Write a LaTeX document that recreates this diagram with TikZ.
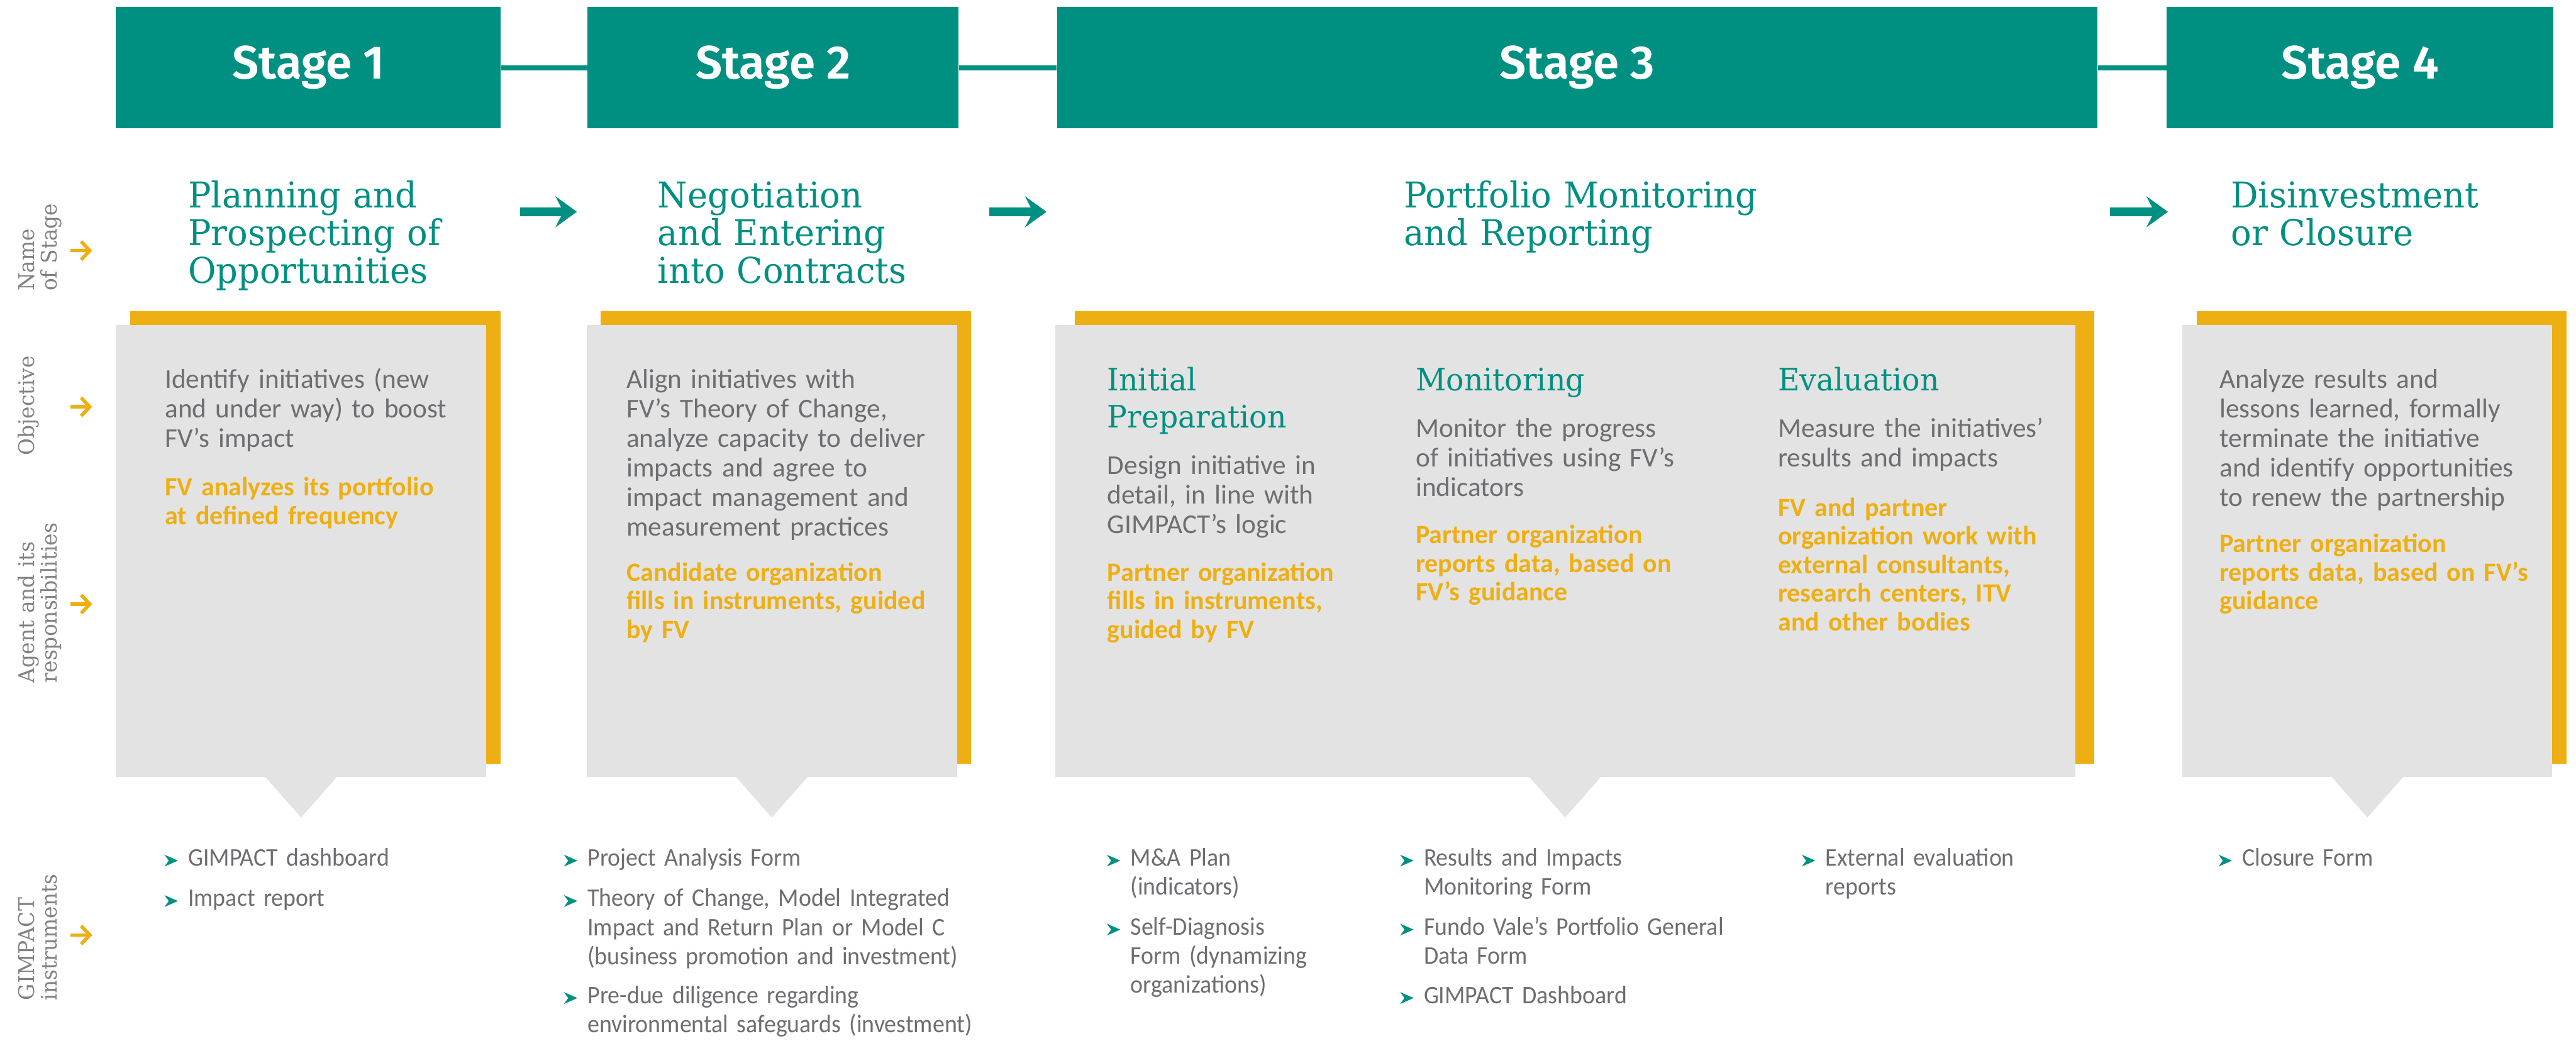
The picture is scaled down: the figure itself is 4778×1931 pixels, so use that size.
\documentclass[tikz,border=0pt]{standalone}
\usepackage{fontspec}
\setmainfont{Carlito}
\newfontfamily\headfont{Fira Sans}[BoldFont={Fira Sans SemiBold}]
\newfontfamily\slabfont{DejaVu Serif}[FakeStretch=0.96]
\newfontfamily\condfont{Carlito}[FakeStretch=0.94]
\usetikzlibrary{positioning,arrows.meta}

\definecolor{fvteal}{HTML}{009081}
\definecolor{fvgold}{HTML}{EEAF13}
\definecolor{fvpanel}{HTML}{E3E3E3}
\definecolor{fvtext}{HTML}{6D6E71}
\definecolor{fvlabel}{HTML}{808285}

\begin{document}
\begin{tikzpicture}
[x=0.2pt, y=-0.2pt,
 stagehead/.style={fill=fvteal, text=white, minimum height=45pt, inner sep=0, font=\headfont\bfseries\fontsize{17.4}{20}\selectfont},
 link/.style={draw=fvteal, line width=1.9pt},
 flow/.style={draw=fvteal, line width=3.2pt, -{Stealth[length=8pt, width=11.6pt, inset=3pt, line width=0pt]}},
 rowarrow/.style={draw=fvgold, line width=1.3pt, -{Straight Barb[length=3.2pt, width=6.8pt]}},
 stagename/.style={anchor=base west, inner sep=0, text width=150pt, align=left, text=fvteal, font=\slabfont\fontsize{13.2}{14}\selectfont},
 substage/.style={stagename, font=\slabfont\fontsize{11.5}{13.8}\selectfont},
 rowlabel/.style={rotate=90, anchor=base west, inner sep=0, text width=80pt, align=left, text=fvlabel, font=\slabfont\fontsize{8}{8.2}\selectfont},
 objtext/.style={anchor=base west, inner sep=0, text width=150pt, align=left, text=fvtext, font=\fontsize{10.1}{11}\selectfont},
 agenttext/.style={objtext, text=fvgold, font=\bfseries\fontsize{9.8}{10.6}\selectfont},
 inst/.style={anchor=base west, inner sep=0, text width=170pt, align=left, text=fvtext, font=\condfont\fontsize{9.4}{10.8}\selectfont}]

\fill[white] (0,0) rectangle (4778,1931);
\useasboundingbox (0,0) rectangle (4778,1931);

\node (s1)[stagehead, minimum width=142.8pt] at (572,125.5) {Stage 1};
\node (s2)[stagehead, minimum width=137.6pt, right=31.8pt of s1] {Stage 2};
\node (s3)[stagehead, minimum width=385.8pt, right=36.2pt of s2] {Stage 3};
\node (s4)[stagehead, minimum width=143.4pt, right=25.4pt of s3] {Stage 4};
\foreach \a/\b in {s1/s2, s2/s3, s3/s4}
  \draw[link] (\a) -- (\b);

\node (n1)[stagename] at (348,385) {Planning and\\Prospecting of\\Opportunities};
\node (n2)[stagename] at (1219,385) {Negotiation\\and Entering\\into Contracts};
\node (n3)[stagename] at (2603,385) {Portfolio Monitoring\\and Reporting};
\node (n4)[stagename] at (4137,385) {Disinvestment\\or Closure};

\foreach \u/\v [count=\k] in {965/1070, 1835/1941, 3914/4021}{
  \coordinate (fa\k) at (\u,393);
  \coordinate (fb\k) at (\v,393);
  \draw[flow] (fa\k) -- (fb\k);
}

% gold backing, grey panel and its pointer
\foreach \l/\r/\d in {215/902/27, 1088/1775/26, 1957/3849/36, 4048/4734/27}{
  \fill[fvgold] (\l+\d,578) rectangle (\r+\d,1417);
  \fill[fvpanel] (\l,603) rectangle (\r,1442);
  \fill[fvpanel] ({(\l+\r)/2-67},1441) -- ({(\l+\r)/2+67},1441) -- ({(\l+\r)/2},1517) -- cycle;
}

\node (lname)[rowlabel] at (64,541) {Name\\of Stage};
\node (lobj)[rowlabel] at (64,846) {Objective};
\node (lagent)[rowlabel] at (64,1268) {Agent and its\\responsibilities};
\node (linst)[rowlabel] at (64,1857) {GIMPACT\\instruments};
\foreach \y [count=\k] in {465,755,1121,1735}{
  \coordinate (ra\k) at (131,\y);
  \coordinate (rb\k) at (171,\y);
  \draw[rowarrow] (ra\k) -- (rb\k);
}

\node (obj1)[objtext] at (305,720) {Identify initiatives (new\\and under way) to boost\\FV’s impact};
\node (agent1)[agenttext] at (305,920) {FV analyzes its portfolio\\at defined frequency};

\node (obj2)[objtext] at (1161,720) {Align initiatives with\\FV’s Theory of Change,\\analyze capacity to deliver\\impacts and agree to\\impact management and\\measurement practices};
\node (agent2)[agenttext] at (1161,1078) {Candidate organization\\fills in instruments, guided\\by FV};

\node (sub1)[substage] at (2053,725) {Initial\\Preparation};
\node (sub2)[substage] at (2625,725) {Monitoring};
\node (sub3)[substage] at (3297,725) {Evaluation};
\node (obj3a)[objtext] at (2053,880) {Design initiative in\\detail, in line with\\GIMPACT’s logic};
\node (obj3b)[objtext] at (2625,811) {Monitor the progress\\of initiatives using FV’s\\indicators};
\node (obj3c)[objtext] at (3297,811) {Measure the initiatives’\\results and impacts};
\node (agent3a)[agenttext] at (2053,1078) {Partner organization\\fills in instruments,\\guided by FV};
\node (agent3b)[agenttext] at (2625,1009) {Partner organization\\reports data, based on\\FV’s guidance};
\node (agent3c)[agenttext] at (3297,958) {FV and partner\\organization work with\\external consultants,\\research centers, ITV\\and other bodies};

\node (obj4)[objtext] at (4116,720) {Analyze results and\\lessons learned, formally\\terminate the initiative\\and identify opportunities\\to renew the partnership};
\node (agent4)[agenttext] at (4116,1025) {Partner organization\\reports data, based on FV’s\\guidance};

\foreach \bx/\by/\txt [count=\k] in {
  305/1607/{GIMPACT dashboard},
  305/1682/{Impact report},
  1046/1607/{Project Analysis Form},
  1046/1682/{Theory of Change, Model Integrated\\Impact and Return Plan or Model C\\(business promotion and investment)},
  1046/1862/{Pre-due diligence regarding\\environmental safeguards (investment)},
  2053/1607/{M\&A Plan\\(indicators)},
  2053/1735/{Self-Diagnosis\\Form (dynamizing\\organizations)},
  2597/1607/{Results and Impacts\\Monitoring Form},
  2597/1735/{Fundo Vale’s Portfolio General\\Data Form},
  2597/1862/{GIMPACT Dashboard},
  3342/1607/{External evaluation\\reports},
  4115/1607/{Closure Form}}{
  \fill[fvteal] (\bx,\by-21) -- (\bx+25,\by-10) -- (\bx,\by+1) -- (\bx+8,\by-10) -- cycle;
  \node (inst\k)[inst] at (\bx+43,\by) {\txt};
}

\end{tikzpicture}
\end{document}
